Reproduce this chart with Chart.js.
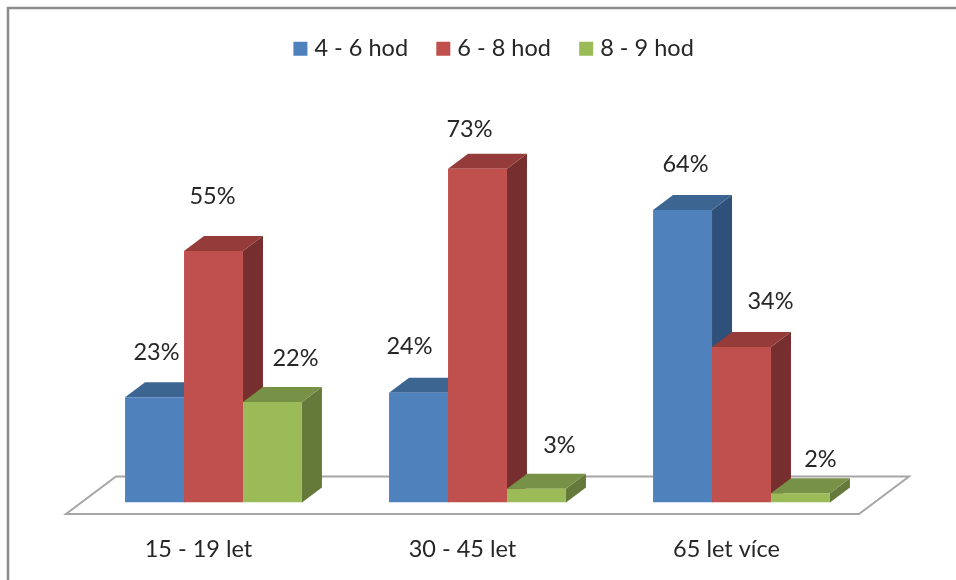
<!DOCTYPE html>
<html>
<head>
<meta charset="utf-8">
<script src="https://cdn.jsdelivr.net/npm/chart.js@4"></script>
<style>
  html, body { margin: 0; background: #fff; }
  #wrap { width: 956px; height: 580px; }
</style>
</head>
<body>
<div id="wrap"><canvas id="sleepChart" width="956" height="580"></canvas></div>
<script>
const categories = ["15 - 19 let", "30 - 45 let", "65 let více"];
const hours4to6 = [23, 24, 64];
const hours6to8 = [55, 73, 34];
const hours8to9 = [22, 3, 2];

const FONT = "Lato, Carlito, sans-serif";
const TEXT = "#262626";
const DEPTH_X = 20;
const DEPTH_Y = 15;

// side and top shades of each bar colour
const shades = [
  { side: "#2F5179", top: "#3D6592" },
  { side: "#762F2E", top: "#953B39" },
  { side: "#64793A", top: "#779147" }
];

// hand placed value labels, per dataset and category, relative to the bar top
const labelShift = [
  [[2, -45], [-9, -46], [3, -46]],
  [[-1, -55], [-8, -39], [29, -46]],
  [[23, -44], [23, -43], [20, -34]]
];

function poly(ctx, pts, fill) {
  ctx.beginPath();
  pts.forEach((p, i) => i ? ctx.lineTo(p[0], p[1]) : ctx.moveTo(p[0], p[1]));
  ctx.closePath();
  if (fill) {
    ctx.fillStyle = fill;
    ctx.fill();
  }
}

const bars3d = {
  id: "bars3d",
  afterLayout(chart) {
    // legend sits right of the canvas centre
    chart.legend.left += 18.5;
    chart.legend.right += 18.5;
  },
  beforeDraw(chart) {
    const ctx = chart.ctx;
    // outer frame, only top and left reach the page
    ctx.save();
    ctx.strokeStyle = "#8C8C8C";
    ctx.lineWidth = 2.5;
    ctx.strokeRect(8, 8, chart.width + 20, chart.height + 20);
    ctx.restore();
  },
  beforeDatasetsDraw(chart) {
    const ctx = chart.ctx;
    const area = chart.chartArea;
    const base = chart.scales.y.getPixelForValue(0);

    // floor of the plot
    ctx.save();
    poly(ctx, [
      [area.left - 15.5, base + 11.5],
      [area.right - 14.5, base + 11.5],
      [area.right + 35.5, base - 26],
      [area.left + 34.5, base - 26]
    ]);
    ctx.strokeStyle = "#A6A6A6";
    ctx.lineWidth = 2;
    ctx.stroke();

    // sides and tops, left to right so later bars overlap earlier ones
    categories.forEach((c, j) => {
      chart.data.datasets.forEach((ds, i) => {
        const bar = chart.getDatasetMeta(i).data[j];
        const l = bar.x - bar.width / 2;
        const r = bar.x + bar.width / 2;
        poly(ctx, [
          [r, bar.y], [r + DEPTH_X, bar.y - DEPTH_Y],
          [r + DEPTH_X, base - DEPTH_Y], [r, base]
        ], shades[i].side);
        poly(ctx, [
          [l, bar.y], [r, bar.y],
          [r + DEPTH_X, bar.y - DEPTH_Y], [l + DEPTH_X, bar.y - DEPTH_Y]
        ], shades[i].top);
      });
    });
    ctx.restore();
  },
  afterDatasetsDraw(chart) {
    const ctx = chart.ctx;
    ctx.save();
    ctx.font = "23.5px " + FONT;
    ctx.fillStyle = TEXT;
    ctx.textAlign = "center";
    ctx.textBaseline = "middle";
    chart.data.datasets.forEach((ds, i) => {
      chart.getDatasetMeta(i).data.forEach((bar, j) => {
        const s = labelShift[i][j];
        ctx.fillText(ds.data[j] + "%", bar.x + s[0], bar.y + s[1]);
      });
    });
    ctx.restore();
  }
};

new Chart(document.getElementById("sleepChart"), {
  type: "bar",
  data: {
    labels: categories,
    datasets: [
      { label: "4 - 6 hod", data: hours4to6, backgroundColor: "#4F81BD" },
      { label: "6 - 8 hod", data: hours6to8, backgroundColor: "#C0504D" },
      { label: "8 - 9 hod", data: hours8to9, backgroundColor: "#9BBB59" }
    ]
  },
  options: {
    responsive: false,
    animation: false,
    categoryPercentage: 0.67,
    barPercentage: 1,
    layout: { padding: { left: 81.5, right: 82.5, top: 4, bottom: 0 } },
    plugins: {
      tooltip: { enabled: false },
      legend: {
        position: "top",
        align: "center",
        labels: {
          color: TEXT,
          font: { family: FONT, size: 23.5 },
          // small box with a thick same colour edge keeps the text close to it
          boxWidth: 4.5,
          boxHeight: 4.5,
          padding: 33,
          generateLabels(chart) {
            return Chart.defaults.plugins.legend.labels.generateLabels(chart).map(item => {
              item.strokeStyle = item.fillStyle;
              item.lineWidth = 9.5;
              return item;
            });
          }
        }
      }
    },
    scales: {
      x: {
        afterFit(scale) { scale.height = 77.5; },
        grid: { display: false, drawTicks: false },
        border: { display: false },
        ticks: {
          color: TEXT,
          font: { family: FONT, size: 23.5 },
          padding: 33,
          labelOffset: -15,
          maxRotation: 0
        }
      },
      y: {
        display: false,
        min: 0,
        max: 94.5
      }
    }
  },
  plugins: [bars3d]
});
</script>
</body>
</html>
